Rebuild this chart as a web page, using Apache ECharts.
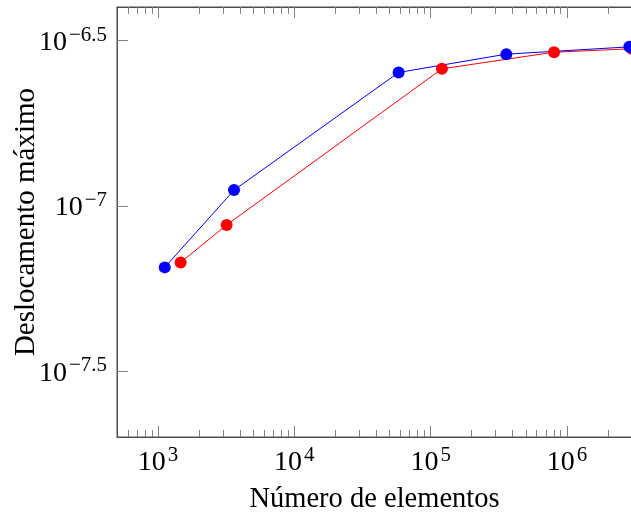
<!DOCTYPE html>
<html>
<head>
<meta charset="utf-8">
<script src="https://cdn.jsdelivr.net/npm/echarts@6/dist/echarts.min.js"></script>
<style>html,body{margin:0;padding:0;background:#fff;}#c{width:631px;height:515px;}</style>
</head>
<body>
<div id="c"></div>
<script>
const blueX = [1120, 3610, 58200, 359000, 2870000];
const blueY = [6.52e-8, 1.117e-7, 2.535e-7, 2.88e-7, 3.03e-7];
const redX = [1465, 3185, 121000, 804000, 3000000];
const redY = [6.75e-8, 8.76e-8, 2.60e-7, 2.92e-7, 2.99e-7];
const xMajorTicks = [1e3, 1e4, 1e5, 1e6];
const xMinorTicks = [600,700,800,900,2000,3000,4000,5000,6000,7000,8000,9000,
  20000,30000,40000,50000,60000,70000,80000,90000,
  200000,300000,400000,500000,600000,700000,800000,900000,2000000];
const yTicks = [Math.pow(10,-7.5), 1e-7, Math.pow(10,-6.5)];
const xMin = 500, xMax = 3000000, yMin = 2e-8, yMax = 4e-7;

const FONT = 'Liberation Serif';
const rich = {
  b: {fontFamily: FONT, fontSize: 28, color: '#000', verticalAlign: 'bottom'},
  s: {fontFamily: FONT, fontSize: 21, color: '#000', verticalAlign: 'bottom', padding: [0,0,11,2]}
};
function fmtX(v){ const e = Math.round(Math.log10(v)); return '{b|10}{s|' + e + '}'; }
function fmtY(v){ const e = Math.round(Math.log10(v)*2)/2; return '{b|10}{s|' + String(e).replace('-', '\u2212') + '}'; }

const axisCol = '#4d4d4d', tickCol = '#808080';
const baseX = {type: 'log', logBase: 10, min: xMin, max: xMax, splitLine: {show: false}};
const chart = echarts.init(document.getElementById('c'));
chart.setOption({
  animation: false,
  backgroundColor: '#fff',
  grid: {left: 117, top: 7, right: -1, bottom: 78, show: true, borderColor: axisCol, borderWidth: 1,
    containLabel: false, outerBoundsMode: 'none'},
  xAxis: [
    Object.assign({}, baseX, {position: 'bottom',
      axisLine: {show: true, lineStyle: {color: axisCol}},
      axisTick: {show: true, inside: true, length: 11, lineStyle: {color: tickCol}, customValues: xMajorTicks},
      axisLabel: {show: true, margin: 8, customValues: xMajorTicks, formatter: fmtX, rich: rich},
      name: 'Número de elementos', nameLocation: 'middle', nameGap: 48, nameMoveOverlap: false,
      nameTextStyle: {fontFamily: FONT, fontSize: 28.5, color: '#000'}}),
    Object.assign({}, baseX, {position: 'bottom',
      axisLine: {show: false},
      axisTick: {show: true, inside: true, length: 7, lineStyle: {color: tickCol}, customValues: xMinorTicks},
      axisLabel: {show: false}}),
    Object.assign({}, baseX, {position: 'top',
      axisLine: {show: true, lineStyle: {color: axisCol}},
      axisTick: {show: true, inside: true, length: 11, lineStyle: {color: tickCol}, customValues: xMajorTicks},
      axisLabel: {show: false}}),
    Object.assign({}, baseX, {position: 'top',
      axisLine: {show: false},
      axisTick: {show: true, inside: true, length: 7, lineStyle: {color: tickCol}, customValues: xMinorTicks},
      axisLabel: {show: false}})
  ],
  yAxis: [
    {type: 'log', logBase: 10, min: yMin, max: yMax, position: 'left',
      splitLine: {show: false},
      axisLine: {show: true, lineStyle: {color: axisCol}},
      axisTick: {show: true, inside: true, length: 11, lineStyle: {color: tickCol}, customValues: yTicks},
      axisLabel: {show: true, margin: 10, customValues: yTicks, formatter: fmtY, rich: rich},
      name: 'Deslocamento máximo', nameLocation: 'middle', nameGap: 76, nameRotate: 90, nameMoveOverlap: false,
      nameTextStyle: {fontFamily: FONT, fontSize: 29, color: '#000'}}
  ],
  series: [
    {type: 'line', name: 'red', xAxisIndex: 0, yAxisIndex: 0,
      data: redX.map((x,i)=>[x, redY[i]]),
      symbol: 'circle', symbolSize: 12, clip: false,
      lineStyle: {color: '#ff0000', width: 1}, itemStyle: {color: '#ff0000'}},
    {type: 'line', name: 'blue', xAxisIndex: 0, yAxisIndex: 0,
      data: blueX.map((x,i)=>[x, blueY[i]]),
      symbol: 'circle', symbolSize: 12, clip: false,
      lineStyle: {color: '#0000ff', width: 1}, itemStyle: {color: '#0000ff'}}
  ]
});
</script>
</body>
</html>
